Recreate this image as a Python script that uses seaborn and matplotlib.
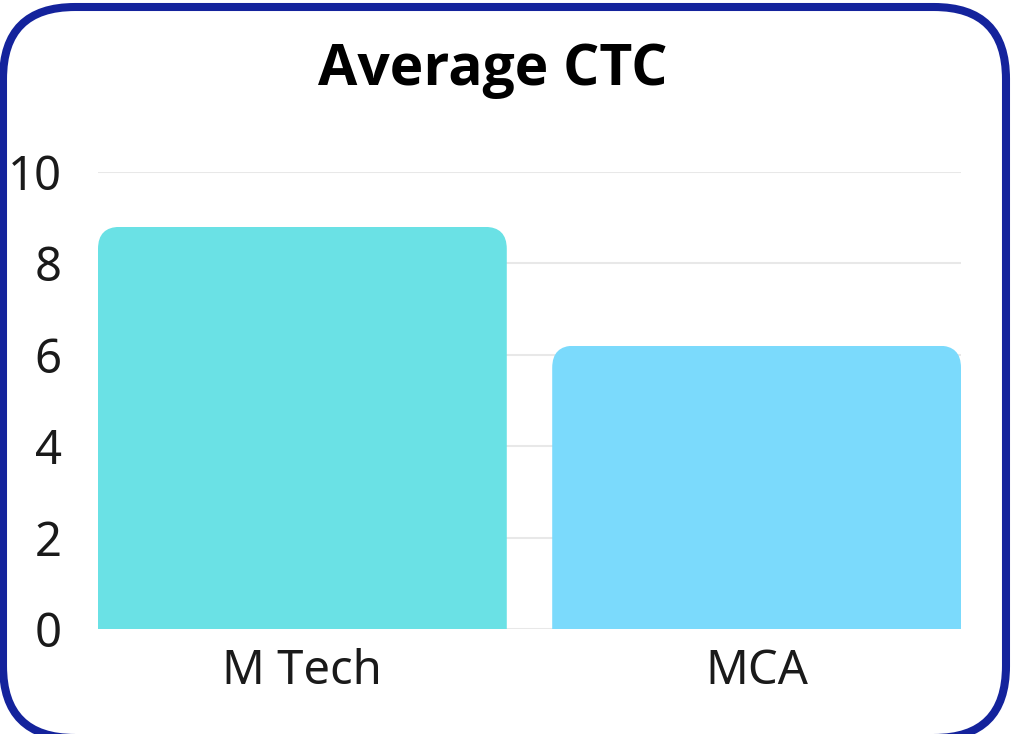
import matplotlib
matplotlib.use("Agg")
import matplotlib.pyplot as plt
from matplotlib.patches import FancyBboxPatch
import seaborn as sns
import pandas as pd

categories = ["M Tech", "MCA"]
values = [8.8, 6.2]
bar_colors = ["#6AE1E5", "#7BDAFC"]
y_ticks = [0, 2, 4, 6, 8, 10]
title = "Average CTC"

sns.set_theme(style="white")
plt.rcParams["font.family"] = ["Noto Sans", "DejaVu Sans"]

W, H, DPI = 1019, 734, 100
fig = plt.figure(figsize=(W / DPI, H / DPI), dpi=DPI)
fig.patch.set_facecolor("white")

ax = fig.add_axes([98 / W, 1 - 629 / H, (961 - 98) / W, (629 - 172) / H])
df = pd.DataFrame({"cat": categories, "val": values})
sns.barplot(data=df, x="cat", y="val", hue="cat", palette=bar_colors,
            saturation=1, width=0.9, legend=False, ax=ax, zorder=3)
ax.set_xlim(-0.45, 1.45)
ax.set_ylim(0, 10)
ax.set_yticks(y_ticks)
ax.set_xlabel("")
ax.set_ylabel("")
for s in ax.spines.values():
    s.set_visible(False)
ax.grid(axis="y", color="#e8e8e8", linewidth=1.5, zorder=0)
ax.set_axisbelow(True)
ax.tick_params(axis="y", labelsize=34, pad=26, length=0, labelcolor="#1a1a1a")
ax.tick_params(axis="x", labelsize=34, pad=14, length=0, labelcolor="#1a1a1a")

# rounded top corners for bars, via clip paths in display space
fig.canvas.draw()
r = 22
for p in ax.patches:
    x0, y0 = p.get_x(), p.get_y()
    x1, y1 = x0 + p.get_width(), y0 + p.get_height()
    (dx0, dy0) = ax.transData.transform((x0, y0))
    (dx1, dy1) = ax.transData.transform((x1, y1))
    clip = FancyBboxPatch((dx0, dy0 - 2 * r), dx1 - dx0, (dy1 - dy0) + 2 * r,
                          boxstyle=f"round,pad=0,rounding_size={r}",
                          transform=None, facecolor="none", edgecolor="none")
    p.set_clip_path(clip)
    p.set_edgecolor("none")

# title
fig.text(493 / W, 1 - 70 / H, title, ha="center", va="center",
         fontsize=41, fontweight="bold", color="black",
         family=["Open Sans", "DejaVu Sans"])

# rounded border
border = FancyBboxPatch((3, H - 738), 1003, 731,
                        boxstyle="round,pad=0,rounding_size=72",
                        transform=None, facecolor="none",
                        edgecolor="#14239C", linewidth=5.8)
fig.patches.append(border)

fig.savefig("out.png", dpi=DPI, facecolor="white")
